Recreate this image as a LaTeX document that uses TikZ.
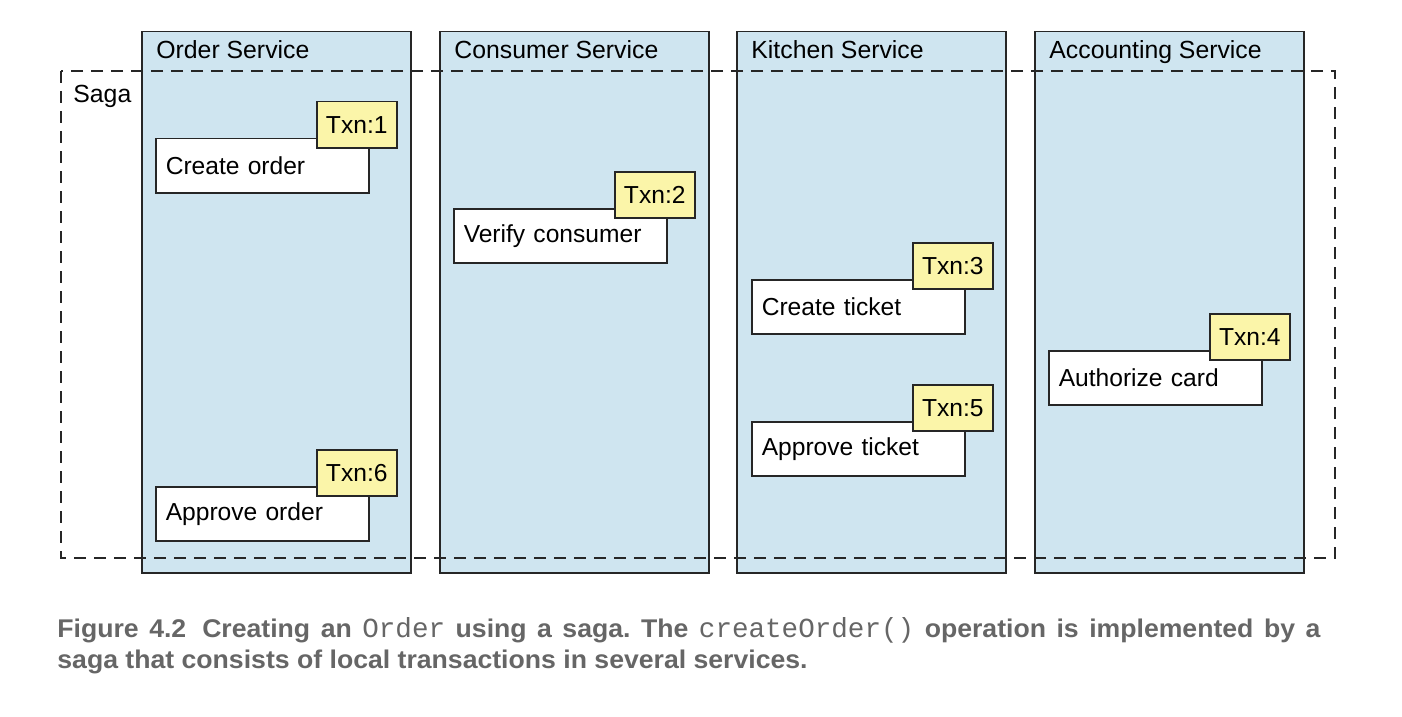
\documentclass[tikz,border=0pt]{standalone}
\usepackage{fontspec}
\setmainfont{Liberation Sans}
\newfontfamily\capfont[FakeStretch=1.04]{Liberation Sans}
\newfontfamily\capmono{Liberation Mono}
\usetikzlibrary{positioning}
\definecolor{svcblue}{HTML}{CFE5F0}
\definecolor{txnyellow}{HTML}{FBF5A9}
\definecolor{capgray}{HTML}{666666}
\newcommand{\capcode}[1]{{\capmono\mdseries\fontsize{13.8}{15.5}\selectfont #1}}
\frenchspacing

\begin{document}
\begin{tikzpicture}[x=0.5pt,y=-0.5pt,
    service/.style={draw=black!85,line width=0.75pt,fill=svcblue,anchor=north west,
      minimum width=134.5pt,minimum height=270.5pt,inner sep=0pt},
    svclabel/.style={anchor=base west,inner sep=0pt,font=\fontsize{12.4}{14}\selectfont},
    stepbox/.style={draw=black!85,line width=0.75pt,fill=white,anchor=north west,
      minimum height=27pt,text width=96.5pt,inner xsep=5pt,inner ysep=0pt,align=left,
      font=\fontsize{12.3}{14}\selectfont},
    txnbox/.style={draw=black!85,line width=0.75pt,fill=txnyellow,anchor=north east,
      minimum width=40pt,minimum height=23pt,inner sep=0pt,font=\fontsize{12.3}{14}\selectfont},
    sagaline/.style={draw=black!85,line width=0.65pt,dash pattern=on 6pt off 4pt}]
  \useasboundingbox (0,0) rectangle (1402,717);

  % services
  \node[service] (order) at (141,31) {};
  \node[service] (consumer) at (439,31) {};
  \node[service] (kitchen) at (736,31) {};
  \node[service] (accounting) at (1034,31) {};
  \node[svclabel] at ([shift={(15,28)}]order.north west) {Order Service};
  \node[svclabel] at ([shift={(15,28)}]consumer.north west) {Consumer Service};
  \node[svclabel] at ([shift={(15,28)}]kitchen.north west) {Kitchen Service};
  \node[svclabel] at ([shift={(15,28)}]accounting.north west) {Accounting Service};

  % saga
  \coordinate (sagaNW) at (61,71);
  \coordinate (sagaSE) at (1335,558);
  \draw[sagaline] (sagaNW) rectangle (sagaSE);
  \node[svclabel] (saga) at ([shift={(12,32)}]sagaNW) {Saga};

  % local transactions
  \node[stepbox] (createorder) at (155,138) {Create order};
  \node[txnbox] (txn1) at ([shift={(28,-37)}]createorder.north east) {Txn:1};
  \node[stepbox] (verify) at (453,208) {Verify consumer};
  \node[txnbox] (txn2) at ([shift={(28,-37)}]verify.north east) {Txn:2};
  \node[stepbox] (createticket) at (751,279) {Create ticket};
  \node[txnbox] (txn3) at ([shift={(28,-37)}]createticket.north east) {Txn:3};
  \node[stepbox] (authorize) at (1048,350) {Authorize card};
  \node[txnbox] (txn4) at ([shift={(28,-37)}]authorize.north east) {Txn:4};
  \node[stepbox] (approveticket) at (751,421) {Approve ticket};
  \node[txnbox] (txn5) at ([shift={(28,-37)}]approveticket.north east) {Txn:5};
  \node[stepbox] (approveorder) at (155,486) {Approve order};
  \node[txnbox] (txn6) at ([shift={(28,-37)}]approveorder.north east) {Txn:6};

  % caption (first line justified)
  \node[anchor=base west,inner sep=0pt,align=left,text=capgray,
    font=\capfont\bfseries\fontsize{12.8}{15.5}\selectfont] (caption) at (57,668)
    {\hbox to 631.5pt{Figure 4.2\hspace{8pt}Creating an \capcode{Order} using a saga. The \capcode{createOrder()} operation is implemented by a}\\
     saga that consists of local transactions in several services.};
\end{tikzpicture}
\end{document}
